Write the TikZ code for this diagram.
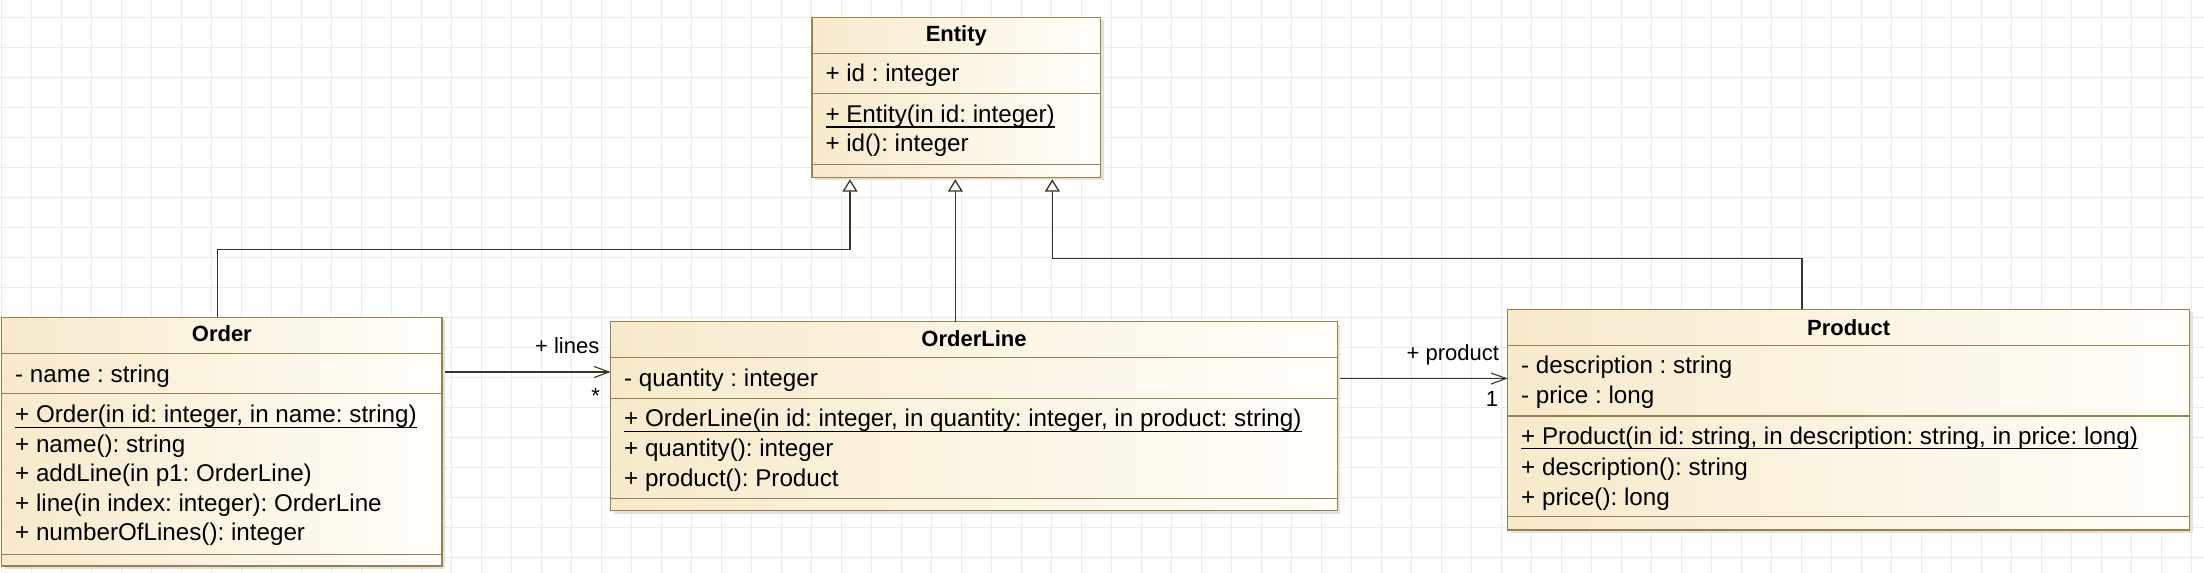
\documentclass[tikz,border=0pt]{standalone}
\usepackage{fontspec}
\setmainfont{Liberation Sans}
\usetikzlibrary{arrows.meta}
\definecolor{boxborder}{RGB}{150,128,85}
\definecolor{boxfill}{RGB}{247,234,203}
\definecolor{boxfillr}{RGB}{255,254,250}
\definecolor{linkcol}{RGB}{60,52,38}
\definecolor{gridcol}{RGB}{235,235,235}
\definecolor{shadowcol}{RGB}{228,225,215}
\tikzset{
  classbox/.style={draw=boxborder, line width=1.3pt, left color=boxfill, right color=boxfillr,
    inner sep=0pt, outer sep=0pt, anchor=north west},
  shadowbox/.style={fill=shadowcol, draw=none, inner sep=0pt, outer sep=0pt, anchor=north west},
  divider/.style={draw=boxborder, line width=1.1pt},
  member/.style={anchor=base west, inner sep=0pt, outer sep=0pt, font=\fontsize{24.2}{29}\selectfont\frenchspacing},
  classtitle/.style={anchor=base, inner sep=0pt, outer sep=0pt, font=\fontsize{22}{27}\selectfont\bfseries},
  rolelabel/.style={inner sep=0pt, outer sep=0pt, font=\fontsize{22}{27}\selectfont},
  uline/.style={draw=black, line width=1.4pt},
  gen/.style={draw=linkcol, line width=1.3pt, shorten >=2pt,
    -{Triangle[open, fill=white, length=12.4pt, width=15pt, line width=1.3pt]}},
  assoc/.style={draw=linkcol, line width=1.3pt, shorten <=3pt,
    -{Straight Barb[length=15pt, width=11pt, line width=1.1pt]}},
}
\newcommand\umlclass[5]{%
  \node[shadowbox, minimum width=#4pt, minimum height=#5pt] at (#2+3,#3+3) {};
  \node[classbox, minimum width=#4pt, minimum height=#5pt] (#1) at (#2,#3) {};
}
\begin{document}
\frenchspacing
\begin{tikzpicture}[x=1pt,y=-1pt]
\useasboundingbox (0,0) rectangle (2204,573);
\fill[white] (0,0) rectangle (2204,573);
% grid
\foreach \gx in {0,...,73} \draw[gridcol, line width=1pt] (1.7+30*\gx,0) -- (1.7+30*\gx,573);
\foreach \gy in {0,...,18} \draw[gridcol, line width=1pt] (0,17.3+30*\gy) -- (2204,17.3+30*\gy);

% ---------- Entity ----------
\umlclass{entity}{812}{17.3}{288.7}{160}
\draw[divider] (812,53.3) -- (1100.7,53.3);
\draw[divider] (812,93.3) -- (1100.7,93.3);
\draw[divider] (812,164.3) -- (1100.7,164.3);
\node[classtitle] (entity-t) at (956.3,41.7) {Entity};
\node[member] (entity-a1) at (825.5,81.7) {+ id : integer};
\node[member] (entity-o1) at (825.5,122.3) {+ Entity(in id: integer)};
\draw[uline] ([yshift=-4.5pt]entity-o1.base west) -- ([yshift=-4.5pt]entity-o1.base east);
\node[member] (entity-o2) at (825.5,151.7) {+ id(): integer};

% ---------- Order ----------
\umlclass{order}{1.7}{317.3}{440.3}{248.7}
\draw[divider] (1.7,353.3) -- (442,353.3);
\draw[divider] (1.7,393.3) -- (442,393.3);
\draw[divider] (1.7,554.3) -- (442,554.3);
\node[classtitle] (order-t) at (221.85,341.7) {Order};
\node[member] (order-a1) at (15.2,382) {- name : string};
\node[member] (order-o1) at (15.2,422.7) {+ Order(in id: integer, in name: string)};
\draw[uline] ([yshift=-4.5pt]order-o1.base west) -- ([yshift=-4.5pt]order-o1.base east);
\node[member] (order-o2) at (15.2,452.3) {+ name(): string};
\node[member] (order-o3) at (15.2,481.7) {+ addLine(in p1: OrderLine)};
\node[member] (order-o4) at (15.2,511.7) {+ line(in index: integer): OrderLine};
\node[member] (order-o5) at (15.2,540.7) {+ numberOfLines(): integer};

% ---------- OrderLine ----------
\umlclass{orderline}{610.7}{321.7}{726.6}{188.8}
\draw[divider] (610.7,357.3) -- (1337.3,357.3);
\draw[divider] (610.7,398.7) -- (1337.3,398.7);
\draw[divider] (610.7,498.3) -- (1337.3,498.3);
\node[classtitle] (orderline-t) at (974,346.7) {OrderLine};
\node[member] (orderline-a1) at (624.2,386) {- quantity : integer};
\node[member] (orderline-o1) at (624.2,426.7) {+ OrderLine(in id: integer, in quantity: integer, in product: string)};
\draw[uline] ([yshift=-4.5pt]orderline-o1.base west) -- ([yshift=-4.5pt]orderline-o1.base east);
\node[member] (orderline-o2) at (624.2,456.7) {+ quantity(): integer};
\node[member] (orderline-o3) at (624.2,486.7) {+ product(): Product};

% ---------- Product ----------
\umlclass{product}{1507.7}{309.3}{681.9}{220.7}
\draw[divider] (1507.7,345.3) -- (2189.6,345.3);
\draw[divider] (1507.7,416) -- (2189.6,416);
\draw[divider] (1507.7,516.3) -- (2189.6,516.3);
\node[classtitle] (product-t) at (1848.65,335) {Product};
\node[member] (product-a1) at (1521.2,373.3) {- description : string};
\node[member] (product-a2) at (1521.2,403.3) {- price : long};
\node[member] (product-o1) at (1521.2,444) {+ Product(in id: string, in description: string, in price: long)};
\draw[uline] ([yshift=-4.5pt]product-o1.base west) -- ([yshift=-4.5pt]product-o1.base east);
\node[member] (product-o2) at (1521.2,475) {+ description(): string};
\node[member] (product-o3) at (1521.2,505) {+ price(): long};

% ---------- generalizations ----------
\draw[gen] ([xshift=-4.55pt]order.north) -- ++(0,-68) -| ([xshift=-106.35pt]entity.south);
\draw[gen] ([xshift=-18.7pt]orderline.north) -- ([xshift=-18.7pt]orderline.north |- entity.south);
\draw[gen] ([xshift=-46.65pt]product.north) -- ++(0,-51) -| ([xshift=96pt]entity.south);

% ---------- associations ----------
\draw[assoc] ([yshift=69.65pt]order.east) -- ([yshift=69.65pt]order.east -| orderline.west);
\draw[assoc] ([yshift=37.6pt]orderline.east) -- ([yshift=37.6pt]orderline.east -| product.west);

\node[rolelabel, anchor=base east] (lbl-lines) at (599.3,353.3) {+ lines};
\node[rolelabel, anchor=base] (lbl-many) at (595.7,403) {*};
\node[rolelabel, anchor=base east] (lbl-product) at (1499,360.7) {+ product};
\node[rolelabel, anchor=base] (lbl-one) at (1492,406) {1};
\end{tikzpicture}
\end{document}
